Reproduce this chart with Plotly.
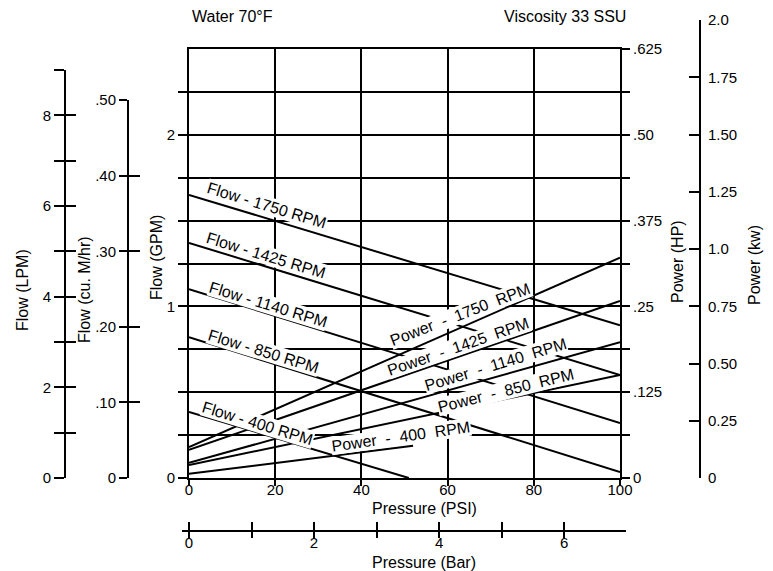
import plotly.graph_objects as go

W, H = 773, 571

# ---------------- data ----------------
psi_span = [0, 100]                       # pressure range of the straight curves (PSI)

flow_rpm = ["1750", "1425", "1140", "850"]
flow_gpm_at_0psi = [1.65, 1.37, 1.10, 0.82]
flow_gpm_at_100psi = [0.89, 0.60, 0.32, 0.035]
flow400_psi = [0, 51]
flow400_gpm = [0.385, 0.0]

power_rpm = ["1750", "1425", "1140", "850"]
power_hp_at_0psi = [0.045, 0.041, 0.022, 0.019]
power_hp_at_100psi = [0.321, 0.258, 0.198, 0.150]
power400_psi = [0, 52]
power400_hp = [0.006, 0.047]

# label anchor points (PSI, GPM) / (PSI, HP) and angles
flow_label_psi = [18.1, 17.9, 18.3, 17.4, 16.0]
flow_label_gpm = [1.59, 1.295, 1.01, 0.735, 0.315]
flow_label_rpm = ["1750", "1425", "1140", "850", "400"]
power_label_psi = [62.9, 62.6, 71.2, 73.5, 49.2]
power_label_hp = [0.2376, 0.191, 0.165, 0.128, 0.060]
power_label_rpm = ["1750", "1425", "1140", "850", "400"]
power_label_angle = [-21, -19, -17, -14, -8]

# axis ticks
psi_ticks = [0, 20, 40, 60, 80, 100]
gpm_ticks = [0, 0.25, 0.5, 0.75, 1.0, 1.25, 1.5, 1.75, 2.0, 2.25]
gpm_ticktext = ["0", "", "", "", "1", "", "", "", "2", ""]
hp_ticks = [0, 0.0625, 0.125, 0.1875, 0.25, 0.3125, 0.375, 0.4375, 0.5, 0.5625, 0.625]
hp_ticktext = ["0", "", ".125", "", ".25", "", ".375", "", ".50", "", ".625"]
lpm_ticks = [0, 1, 2, 3, 4, 5, 6, 7, 8, 9]
lpm_ticktext = ["0", "", "2", "", "4", "", "6", "", "8", ""]
m3h_ticks = [0, 0.1, 0.2, 0.3, 0.4, 0.5]
m3h_ticktext = ["0", ".10", ".20", ".30", ".40", ".50"]
kw_ticks = [0, 0.25, 0.5, 0.75, 1.0, 1.25, 1.5, 1.75, 2.0]
kw_ticktext = ["0", "0.25", "0.50", "0.75", "1.0", "1.25", "1.50", "1.75", "2.0"]
bar_ticks = [0, 1, 2, 3, 4, 5, 6, 7]
bar_ticktext = ["0", "", "2", "", "4", "", "6", ""]

GPM_RANGE = [0, 2.5]
HP_RANGE = [0, 0.625]
KW_RANGE = [0, 2.0]
LPM_TOP = 9
M3H_TOP = 0.5
LPM_PER_GPM = 3.785
M3H_PER_GPM = 0.2271
PSI_PER_BAR = 14.5038

# ---------------- layout geometry (pixels -> paper) ----------------
def px(x):
    return x / W

def py(y):
    return 1 - y / H

X0, X1 = 189, 620          # plot left / right
Y0, Y1 = 478, 49           # plot bottom / top
FONT = "Liberation Sans, Arial, Helvetica, sans-serif"
BLACK = "black"

def gpm_to_pixel(g):
    return Y0 - (g - GPM_RANGE[0]) / (GPM_RANGE[1] - GPM_RANGE[0]) * (Y0 - Y1)

lpm_top_px = gpm_to_pixel(LPM_TOP / LPM_PER_GPM)
m3h_top_px = gpm_to_pixel(M3H_TOP / M3H_PER_GPM)

px_per_psi = (X1 - X0) / (psi_span[1] - psi_span[0])
bar_left_px, bar_right_px = 182, 626
bar_range = [-(X0 - bar_left_px) / (px_per_psi * PSI_PER_BAR),
             (bar_right_px - X0) / (px_per_psi * PSI_PER_BAR)]

fig = go.Figure()

line_style = dict(color=BLACK, width=2)

for rpm, a, b in zip(flow_rpm, flow_gpm_at_0psi, flow_gpm_at_100psi):
    fig.add_trace(go.Scatter(x=psi_span, y=[a, b], mode="lines", line=line_style,
                             name=f"Flow - {rpm} RPM", showlegend=False, hoverinfo="skip"))
fig.add_trace(go.Scatter(x=flow400_psi, y=flow400_gpm, mode="lines", line=line_style,
                         name="Flow - 400 RPM", showlegend=False, hoverinfo="skip"))

for rpm, a, b in zip(power_rpm, power_hp_at_0psi, power_hp_at_100psi):
    fig.add_trace(go.Scatter(x=psi_span, y=[a, b], mode="lines", line=line_style, yaxis="y2",
                             name=f"Power - {rpm} RPM", showlegend=False, hoverinfo="skip"))
fig.add_trace(go.Scatter(x=power400_psi, y=power400_hp, mode="lines", line=line_style, yaxis="y2",
                         name="Power - 400 RPM", showlegend=False, hoverinfo="skip"))

# placeholder traces so the auxiliary scales exist as real subplots
for xa, ya in [("x4", "y3"), ("x4", "y4"), ("x4", "y5"), ("x4", "y6"), ("x4", "y7"),
               ("x2", "y8"), ("x3", "y8")]:
    fig.add_trace(go.Scatter(x=[None], y=[None], xaxis=xa, yaxis=ya, mode="lines",
                             showlegend=False, hoverinfo="skip"))

tickfont = dict(family=FONT, size=15, color=BLACK)
common = dict(linecolor=BLACK, linewidth=2, tickcolor=BLACK, tickwidth=2,
              tickfont=tickfont, zeroline=False, fixedrange=True, automargin=False)

fig.update_layout(
    template="none",
    width=W, height=H, autosize=False,
    margin=dict(l=0, r=0, t=0, b=0, pad=0, autoexpand=False),
    paper_bgcolor="white", plot_bgcolor="rgba(0,0,0,0)",
    showlegend=False,
    font=dict(family=FONT, size=15, color=BLACK),
    xaxis=dict(domain=[px(X0), px(X1)], range=psi_span, anchor="y",
               tickvals=psi_ticks, ticks="outside", ticklen=6, ticklabelstandoff=-9,
               showgrid=True, gridcolor=BLACK, gridwidth=2,
               showline=True, mirror=True, **common),
    yaxis=dict(domain=[py(Y0), py(Y1)], range=GPM_RANGE, anchor="x",
               tickvals=gpm_ticks, ticktext=gpm_ticktext, ticks="outside", ticklen=9,
               showgrid=True, gridcolor=BLACK, gridwidth=2, showline=True, **common),
    yaxis2=dict(overlaying="y", side="right", anchor="x", range=HP_RANGE,
                tickvals=hp_ticks, ticktext=hp_ticktext, ticks="outside", ticklen=8,
                showgrid=False, showline=True, **common),
    # LPM scale (labels + outer ticks) and its inner tick half
    yaxis3=dict(domain=[py(Y0), py(lpm_top_px)], range=[0, LPM_TOP], anchor="free",
                position=px(65), side="left", tickvals=lpm_ticks, ticktext=lpm_ticktext,
                ticks="outside", ticklen=10, showgrid=False, showline=True, **common),
    yaxis4=dict(domain=[py(Y0), py(lpm_top_px)], range=[0, LPM_TOP], anchor="free",
                position=px(65), side="left", tickvals=lpm_ticks, showticklabels=False,
                ticks="inside", ticklen=10, showgrid=False, showline=False, **common),
    # cu. M/hr scale
    yaxis5=dict(domain=[py(Y0), py(m3h_top_px)], range=[0, M3H_TOP], anchor="free",
                position=px(128), side="left", tickvals=m3h_ticks, ticktext=m3h_ticktext,
                ticks="outside", ticklen=8, showgrid=False, showline=True, **common),
    yaxis6=dict(domain=[py(Y0), py(m3h_top_px)], range=[0, M3H_TOP], anchor="free",
                position=px(128), side="left", tickvals=m3h_ticks, showticklabels=False,
                ticks="inside", ticklen=11, showgrid=False, showline=False, **common),
    # kW scale
    yaxis7=dict(domain=[py(478), py(20)], range=KW_RANGE, anchor="free",
                position=px(700), side="right", tickvals=kw_ticks, ticktext=kw_ticktext,
                ticks="inside", ticklen=10, ticklabelstandoff=4,
                showgrid=False, showline=True, **common),
    yaxis8=dict(domain=[0, 1], range=[0, 1], visible=False, fixedrange=True, automargin=False),
    xaxis4=dict(domain=[0, 1], range=[0, 1], visible=False, fixedrange=True, anchor="y3",
                automargin=False),
    # Bar scale
    xaxis2=dict(domain=[px(bar_left_px), px(bar_right_px)], range=bar_range, anchor="free",
                position=py(531), side="bottom", tickvals=bar_ticks, ticktext=bar_ticktext,
                ticks="outside", ticklen=6, ticklabelstandoff=-8,
                showgrid=False, showline=True, **common),
    xaxis3=dict(domain=[px(bar_left_px), px(bar_right_px)], range=bar_range, anchor="free",
                position=py(531), side="bottom", tickvals=bar_ticks, showticklabels=False,
                ticks="inside", ticklen=9, showgrid=False, showline=False, **common),
)

ann = []
titlefont = dict(family=FONT, size=16, color=BLACK)
def paper_text(text, x, y, angle=0, xanchor="center"):
    ann.append(dict(text=text, x=px(x), y=py(y), xref="paper", yref="paper",
                    showarrow=False, textangle=angle, font=titlefont,
                    xanchor=xanchor, yanchor="middle"))

paper_text("Water 70°F", 190, 17, xanchor="left")
paper_text("Viscosity 33 SSU", 628, 17, xanchor="right")
paper_text("Pressure (PSI)", 424, 508)
paper_text("Pressure (Bar)", 424, 562)
paper_text("Flow (GPM)", 156, 258, angle=-90)
paper_text("Flow (cu. M/hr)", 84, 290, angle=-90)
paper_text("Flow (LPM)", 22, 290, angle=-90)
paper_text("Power (HP)", 677, 262, angle=-90)
paper_text("Power (kw)", 755, 265, angle=-90)

labelfont = dict(family=FONT, size=16, color=BLACK)
for rpm, x, y in zip(flow_label_rpm, flow_label_psi, flow_label_gpm):
    ann.append(dict(text=f"Flow - {rpm} RPM", x=x, y=y, xref="x", yref="y",
                    showarrow=False, textangle=17, font=labelfont,
                    bgcolor="white", borderpad=0))
nb = "\u00a0"
for rpm, x, y, ang in zip(power_label_rpm, power_label_psi, power_label_hp, power_label_angle):
    ann.append(dict(text=f"Power{nb} -{nb} {rpm}{nb} RPM", x=x, y=y, xref="x", yref="y2",
                    showarrow=False, textangle=ang, font=labelfont,
                    bgcolor="white", borderpad=0))

fig.update_layout(annotations=ann)

fig.write_html("out.html", config={"displayModeBar": False},
               post_script="document.body.style.margin='0';document.body.style.overflow='hidden';")
